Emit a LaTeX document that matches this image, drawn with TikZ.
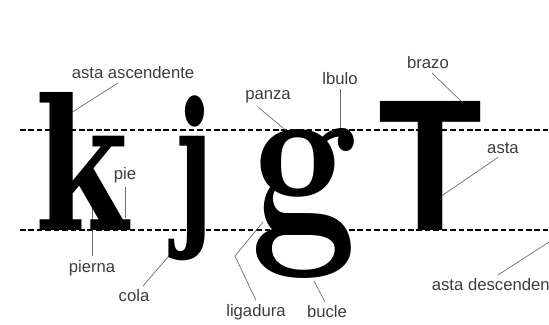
\documentclass[tikz,border=0pt]{standalone}
\usepackage{fontspec}
\usepackage{xcolor}
\usepackage{graphicx}
\usepackage{tikz}
\newfontfamily\labelfont{Liberation Sans}
\newfontfamily\slabfont{DejaVu Serif}
\definecolor{labelgray}{RGB}{60,60,60}
\definecolor{leadergray}{RGB}{110,110,110}

\begin{document}
\begin{tikzpicture}[x=0.02cm, y=-0.02cm,
  glyph/.style={inner sep=0pt, anchor=north west},
  part/.style={text=labelgray, font=\labelfont\fontsize{9.5}{11}\selectfont, inner sep=2pt},
  leader/.style={draw=leadergray, line width=0.4pt},
  guide/.style={dash pattern=on 3.2pt off 1.6pt, line width=0.6pt}]
\useasboundingbox (0,0) rectangle (549,325);
\clip (0,0) rectangle (549,325);

\draw[guide] (20,130) -- (549,130);
\draw[guide] (20,230) -- (549,230);

\node[part] (ascend) at (133,73) {asta ascendente};
\node[part] (pie) at (125,175) {pie};
\node[part] (pierna) at (92,268) {pierna};
\node[part] (cola) at (134,296) {cola};
\node[part] (panza) at (268,97) {panza};
\node[part] (lobulo) at (340,79) {lbulo};
\node[part] (ligadura) at (256,312) {ligadura};
\node[part] (bucle) at (327,312) {bucle};
\node[part] (brazo) at (428,63) {brazo};
\node[part] (asta) at (503,148) {asta};
\node[part, anchor=west] (descend) at (428,285) {asta descendente};

\coordinate (kstem) at (63,118);
\coordinate (kfoot) at (125,218);
\coordinate (kleg) at (92,200);
\coordinate (jtail) at (174,250);
\coordinate (gbowl) at (288,132);
\coordinate (gear) at (340,142);
\coordinate (gbend) at (235,256);
\coordinate (glink) at (263,222);
\coordinate (gloop) at (314,281);
\coordinate (tbar) at (463,103);
\coordinate (tstem) at (440,197);
\coordinate (tdesc) at (560,235);

\draw[leader] ([xshift=-0.3cm]ascend.south) -- (kstem);
\draw[leader] (pie.south) -- (kfoot);
\draw[leader] (pierna.north) -- (kleg);
\draw[leader] ([xshift=0.18cm]cola.north) -- (jtail);
\draw[leader] ([xshift=-0.2cm]panza.south) -- (gbowl);
\draw[leader] (lobulo.south) -- (gear);
\draw[leader] (ligadura.north) -- (gbend) -- (glink);
\draw[leader] ([xshift=-0.04cm]bucle.north) -- (gloop);
\draw[leader] ([xshift=0.08cm]brazo.south) -- (tbar);
\draw[leader] ([xshift=-0.1cm]asta.south) -- (tstem);
\draw[leader] ([xshift=1.4cm]descend.north west) -- (tdesc);

\node[glyph] (k) at (35,92) {\resizebox*{1.86cm}{2.76cm}{\slabfont\bfseries k}};
\node[glyph] (j) at (176,95) {\resizebox*{0.74cm}{3.3cm}{\slabfont\bfseries j}};
\node[glyph] (g) at (250,128) {\resizebox*{2.14cm}{3.0cm}{\bfseries g}};
\node[glyph] (T) at (378,101) {\resizebox*{2.08cm}{2.58cm}{\labelfont\bfseries T}};
\end{tikzpicture}
\end{document}
